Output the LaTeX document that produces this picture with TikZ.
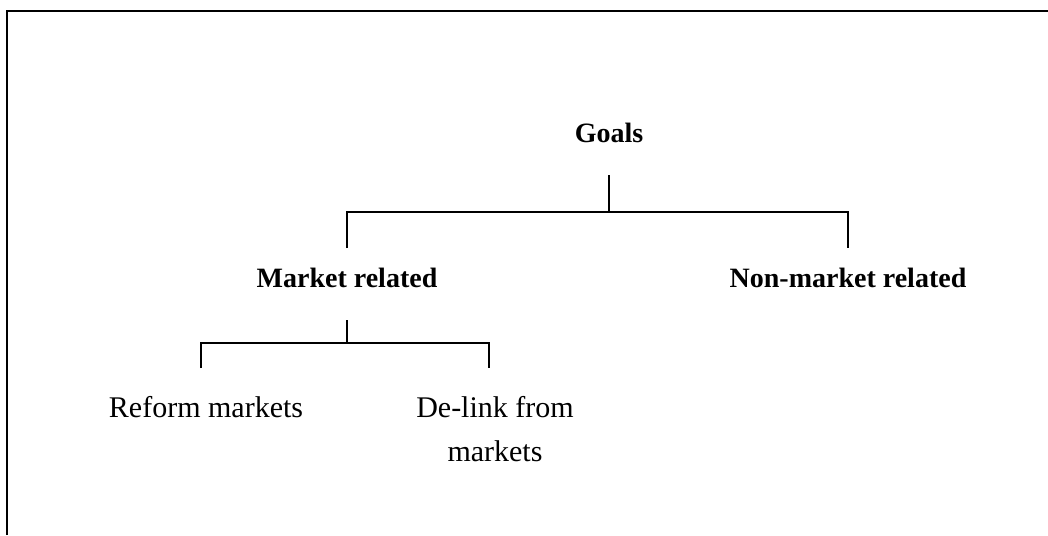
\documentclass[tikz,border=0pt]{standalone}
\usepackage{fontspec}
\setmainfont{Liberation Serif}
\usetikzlibrary{calc}
\begin{document}
\begin{tikzpicture}
	[x=0.5pt, y=-0.5pt,
	head/.style = {font=\fontsize{14}{17}\selectfont\bfseries,
	inner sep=0pt, anchor=base},
	leaf/.style = {font=\fontsize{15}{22}\selectfont,
	inner sep=0pt, anchor=base, align=center},
	line width=0.75pt]
	\useasboundingbox (0,0) rectangle (1048,535);
	\draw[line width=1pt] (7,535) -- (7,11) -- (1048,11);
	\node[head] (goals) at (609,142) {Goals};
	\node[head] (market) at (347,287) {Market related};
	\node[head] (nonmarket) at (848,287) {Non-market related};
	\node[leaf] (reform) at (206,417) {Reform markets};
	\node[leaf] (delink) at (495,461) {De-link from\\markets};
	\draw ($(goals.base)+(0,33)$) -- ($(goals.base)+(0,70)$);
	\draw ($(market.base)+(0,-39)$) |- ($(goals.base)+(0,70)$)
		-| ($(nonmarket.base)+(0,-39)$);
	\draw ($(market.base)+(0,33)$) -- ($(market.base)+(0,56)$);
	\draw ($(reform.base)+(-5,-49)$) |- ($(market.base)+(0,56)$)
		-| ($(delink.base)+(-6,-93)$);
\end{tikzpicture}
\end{document}
